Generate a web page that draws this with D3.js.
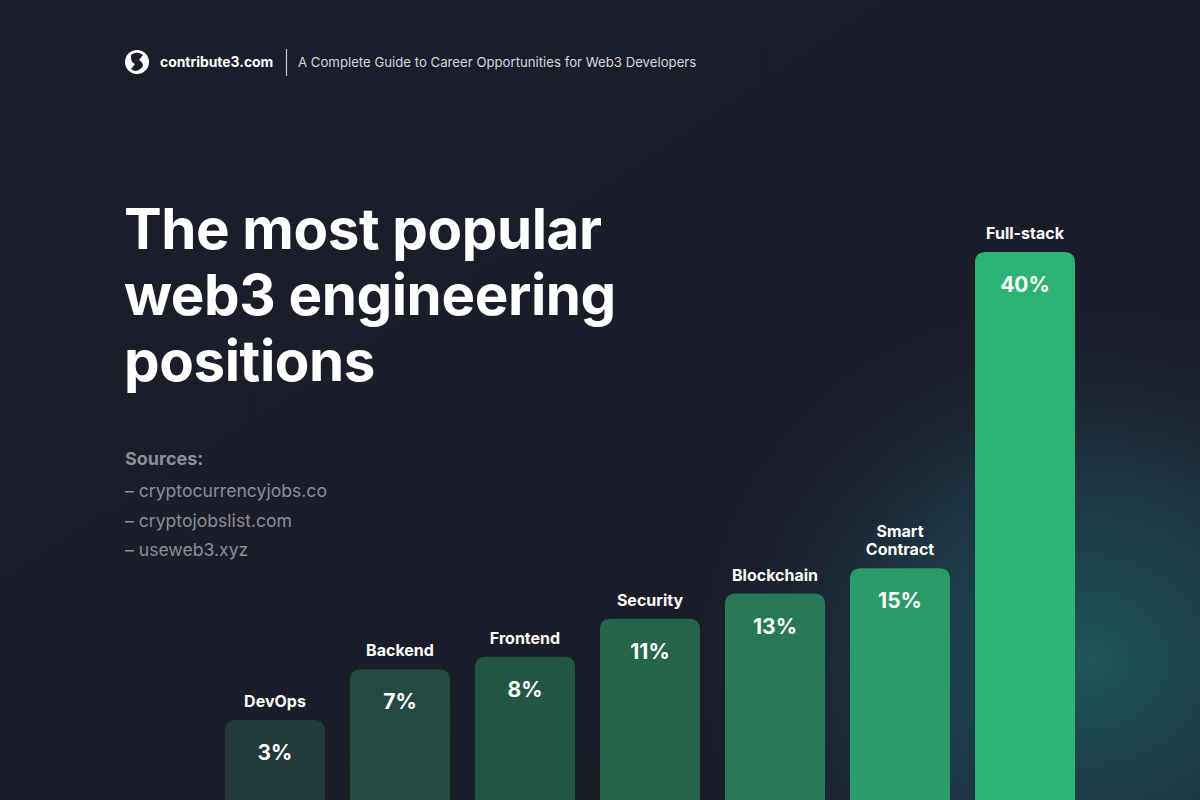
<!DOCTYPE html>
<html><head><meta charset="utf-8">
<script src="https://cdn.jsdelivr.net/npm/d3@7"></script>
<style>
html,body{margin:0;padding:0;background:#1b1c2a;}
svg{display:block;font-family:Inter,"Noto Sans",sans-serif;}
</style></head>
<body>
<svg id="chart" width="1200" height="800"></svg>
<script>
const categories = ["DevOps","Backend","Frontend","Security","Blockchain","Smart Contract","Full-stack"];
const values = [3,7,8,11,13,15,40];
const barColors = ["#213a39","#234a40","#245645","#25654c","#267856","#2a9b69","#2db373"];
const titleLines = ["The most popular","web3 engineering","positions"];
const sources = ["– cryptocurrencyjobs.co","– cryptojobslist.com","– useweb3.xyz"];
const brand = "contribute3.com";
const subtitle = "A Complete Guide to Career Opportunities for Web3 Developers";

const W = 1200, H = 800;
const svg = d3.select("#chart");
const defs = svg.append("defs");

// background
const bg = defs.append("linearGradient").attr("id","bg").attr("x1","0").attr("y1","0").attr("x2","1").attr("y2","1");
bg.append("stop").attr("offset","0").attr("stop-color","#1c1d2b");
bg.append("stop").attr("offset","1").attr("stop-color","#1a1c28");
svg.append("rect").attr("width",W).attr("height",H).attr("fill","url(#bg)");
const glow = defs.append("radialGradient").attr("id","glow").attr("cx","0.5").attr("cy","0.5").attr("r","0.5");
glow.append("stop").attr("offset","0").attr("stop-color","#1f5a5c").attr("stop-opacity",0.95);
glow.append("stop").attr("offset","0.5").attr("stop-color","#1d4450").attr("stop-opacity",0.6);
glow.append("stop").attr("offset","1").attr("stop-color","#1b1c2a").attr("stop-opacity",0);
svg.append("ellipse").attr("cx",1090).attr("cy",660).attr("rx",420).attr("ry",380).attr("fill","url(#glow)");

// header
const hdr = svg.append("g");
hdr.append("circle").attr("cx",137).attr("cy",62).attr("r",12).attr("fill","#ffffff");
hdr.append("path").attr("d","M131,55 Q137,50 143,55 L139,60 Q143,62 143,66 Q137,74 131,69 L135,64 Q131,62 131,58 Z")
  .attr("fill","#1b1c2a");
hdr.append("text").attr("x",160).attr("y",67).attr("fill","#ffffff").attr("font-size",13.9).attr("font-weight",700).text(brand);
hdr.append("line").attr("x1",286.5).attr("x2",286.5).attr("y1",49).attr("y2",76).attr("stroke","#c8c9d2").attr("stroke-width",1.2);
hdr.append("text").attr("x",298).attr("y",67).attr("fill","#d6d7de").attr("font-size",13.2).text(subtitle);

// title
svg.append("g").selectAll("text").data(titleLines).join("text")
  .attr("x",124).attr("y",(d,i)=>249+i*66)
  .attr("fill","#ffffff").attr("font-size",56.5).attr("font-weight",700).attr("letter-spacing","-0.4")
  .text(d=>d);

// sources
svg.append("text").attr("x",125).attr("y",465).attr("fill","#8c8e9b").attr("font-size",18).attr("font-weight",700).text("Sources:");
svg.append("g").selectAll("text").data(sources).join("text")
  .attr("x",125).attr("y",(d,i)=>497+i*29.5)
  .attr("fill","#8c8e9b").attr("font-size",17.6).text(d=>d);

// scales
const x = d3.scaleBand().domain(categories).range([212.5,1087.5]).paddingInner(0.2).paddingOuter(0.1);
const y = d3.scaleLinear().domain([0,40]).range([758,252]);
const r = 11;

const data = categories.map((c,i)=>({c, v:values[i], col:barColors[i]}));
const bars = svg.append("g");
bars.selectAll("path").data(data).join("path")
  .attr("d",d=>{
    const x0 = x(d.c), w = x.bandwidth(), t = y(d.v), b = H + 20;
    return `M${x0},${b} L${x0},${t+r} Q${x0},${t} ${x0+r},${t} L${x0+w-r},${t} Q${x0+w},${t} ${x0+w},${t+r} L${x0+w},${b} Z`;
  })
  .attr("fill",d=>d.col);

// value labels
bars.selectAll("text.val").data(data).join("text").attr("class","val")
  .attr("x",d=>x(d.c)+x.bandwidth()/2).attr("y",d=>y(d.v)+40)
  .attr("text-anchor","middle").attr("fill","#ffffff").attr("font-size",21).attr("font-weight",700)
  .text(d=>d.v+"%");

// category labels
bars.selectAll("text.cat").data(data).join("text").attr("class","cat")
  .attr("x",d=>x(d.c)+x.bandwidth()/2)
  .attr("text-anchor","middle").attr("fill","#ffffff").attr("font-size",16).attr("font-weight",700)
  .each(function(d){
    const words = d.c.indexOf(" ")>0 ? d.c.split(" ") : [d.c];
    const t = d3.select(this);
    const base = y(d.v) - 13;
    words.forEach((w,i)=>{
      t.append("tspan").attr("x",x(d.c)+x.bandwidth()/2).attr("y",base-(words.length-1-i)*18).text(w);
    });
  });
</script>
</body></html>
